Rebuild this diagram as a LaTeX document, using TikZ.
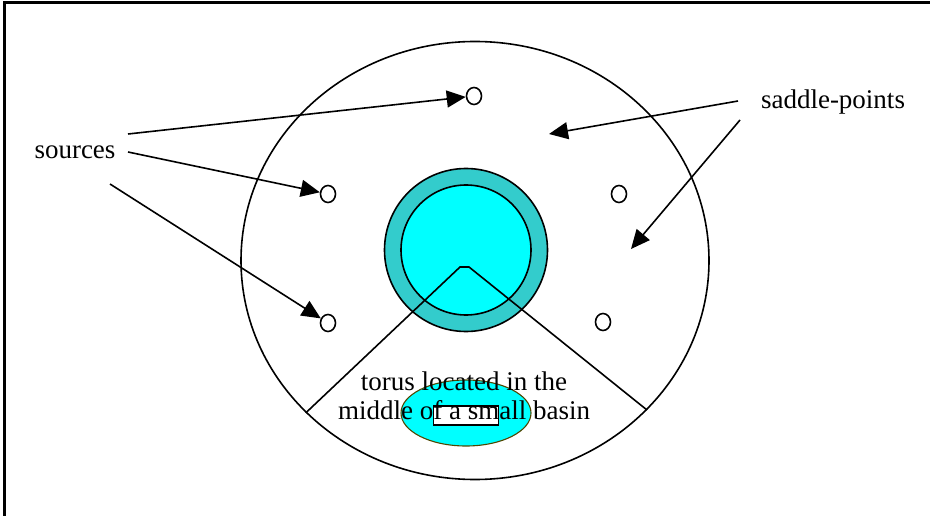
\documentclass[tikz,border=0pt]{standalone}
\usepackage{fontspec}
\setmainfont{Liberation Serif}
\usepackage{tikz}
\usetikzlibrary{positioning,arrows.meta,shapes.geometric}
\definecolor{torusouter}{RGB}{51,204,204}
\definecolor{torusinner}{RGB}{0,255,255}
\definecolor{basinrim}{RGB}{80,70,0}
\tikzset{
  label/.style={font=\fontsize{27}{29}\selectfont, inner sep=2pt},
  dot/.style={draw, ellipse, line width=1.6pt, fill=white, inner sep=0pt,
              minimum width=15pt, minimum height=17pt},
  ring/.style={draw, circle, line width=1.6pt, inner sep=0pt},
  arrow/.style={-{Triangle[length=19pt, width=17pt]}, line width=1.6pt},
}

\begin{document}
\begin{tikzpicture}[x=1pt, y=-1pt, line width=1.6pt]
  \useasboundingbox (0,0) rectangle (930,516);
  % frame
  \draw[line width=3pt] (4,516) -- (4,3) -- (930,3);

  % domain and torus
  \node[draw, ellipse, line width=1.6pt, inner sep=0pt,
        minimum width=468pt, minimum height=438pt] (domain) at (475,260.5) {};
  \node[ring, fill=torusouter, minimum size=163pt] (outer) at (466,250) {};
  \node[ring, fill=torusinner, minimum size=130pt] (inner) at (466,250) {};

  % sector of the basin
  \coordinate (apexL) at (460,267);
  \coordinate (apexR) at (469,267);
  \draw (domain.-138.7) -- (apexL) -- (apexR) -- (domain.-41.9);

  % small basin
  \node[draw=basinrim, fill=torusinner, ellipse, line width=1.1pt, inner sep=0pt,
        minimum width=130pt, minimum height=66pt] (basin) at (466,413) {};
  \node[draw, fill=white, line width=1.4pt, inner sep=0pt,
        minimum width=65pt, minimum height=19pt] (mark) at (466,415.5) {};
  \node[label, align=center] (caption) at (464,396)
    {torus located in the\\middle of a small basin};

  % sources and saddle-points
  \node[dot] (s1) at (474,96) {};
  \node[dot] (s2) at (328,194) {};
  \node[dot] (s3) at (328,323) {};
  \node[dot] (s4) at (619,194) {};
  \node[dot] (s5) at (603,322) {};
  \coordinate (sp1) at (549,134);
  \coordinate (sp2) at (631,249);

  \node[label] (sources) at (75,152) {sources};
  \node[label] (saddle) at (833,102) {saddle-points};

  \coordinate (f1) at (128,134);
  \coordinate (f2) at (128,152);
  \coordinate (f3) at (110,184);
  \coordinate (f4) at (738,101);
  \coordinate (f5) at (740,120);
  \draw[arrow] (f1) -- (s1);
  \draw[arrow] (f2) -- (s2);
  \draw[arrow] (f3) -- (s3);
  \draw[arrow] (f4) -- (sp1);
  \draw[arrow] (f5) -- (sp2);
\end{tikzpicture}
\end{document}
